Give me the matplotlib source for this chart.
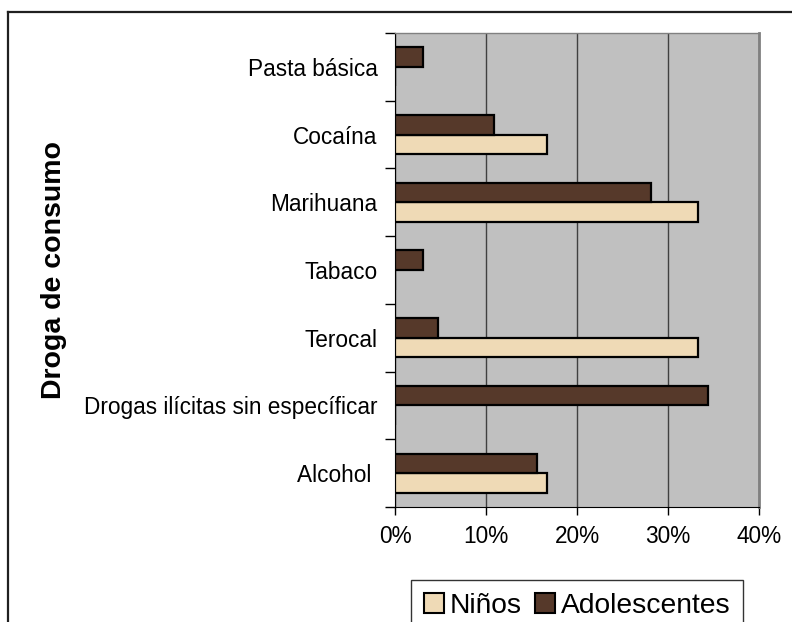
import numpy as np
import matplotlib.pyplot as plt
from matplotlib.lines import Line2D
from matplotlib.patches import Patch
from matplotlib.ticker import FuncFormatter

plt.rcParams['font.family'] = ['Liberation Sans', 'DejaVu Sans']

# Datos (% de consumo por grupo)
drogas = ['Alcohol ', 'Drogas ilícitas sin específicar', 'Terocal', 'Tabaco',
          'Marihuana', 'Cocaína', 'Pasta básica']
ninos = [16.7, 0, 33.3, 0, 33.3, 16.7, 0]
adolescentes = [15.6, 34.4, 4.7, 3.1, 28.1, 10.9, 3.1]

c_ninos = '#efdab6'
c_adol = '#56392a'

W, H = 792, 622
fig = plt.figure(figsize=(W / 100, H / 100), dpi=100)
ax = fig.add_axes([395 / W, 1 - 507 / H, 364 / W, 474 / H])

y = np.arange(len(drogas))
h = 0.29
ax.barh(y - h / 2, ninos, height=h, color=c_ninos, edgecolor='black',
        linewidth=1.6, zorder=3)
ax.barh(y + h / 2, adolescentes, height=h, color=c_adol, edgecolor='black',
        linewidth=1.6, zorder=3)

ax.set_facecolor('#c0c0c0')
ax.set_xlim(0, 40)
ax.set_ylim(-0.5, len(drogas) - 0.5)
ax.set_xticks([0, 10, 20, 30, 40])
ax.xaxis.set_major_formatter(FuncFormatter(lambda v, p: f'{v:.0f}%'))
ax.set_yticks(y)
ax.set_yticklabels(drogas)
ax.set_yticks(np.arange(-0.5, len(drogas), 1), minor=True)
ax.tick_params(axis='y', which='major', length=0, pad=12.5, labelsize=16.3)
ax.tick_params(axis='y', which='minor', length=7, width=1, direction='out')
ax.tick_params(axis='x', length=6, width=1, direction='out', pad=7, labelsize=16.3)

ax.grid(axis='x', color='#404040', linewidth=1, zorder=1)
ax.set_axisbelow(True)
for s in ['top', 'right']:
    ax.spines[s].set_color('#808080')
ax.spines['top'].set_linewidth(1)
ax.spines['right'].set_linewidth(2)
ax.spines['left'].set_color('black')
ax.spines['bottom'].set_color('black')

ax.set_ylabel('Droga de consumo', fontsize=20.5, fontweight='bold')
ax.yaxis.set_label_coords((67 - 395) / 364, 0.5)

# Leyenda
handles = [Patch(facecolor=c_ninos, edgecolor='black', linewidth=1.5, label='Niños'),
           Patch(facecolor=c_adol, edgecolor='black', linewidth=1.5, label='Adolescentes')]
leg = fig.legend(handles=handles, loc='upper center', ncol=2,
                 bbox_to_anchor=(577 / W, 1 - 580 / H), fontsize=20.3,
                 frameon=True, fancybox=False, edgecolor='black',
                 handlelength=0.7, handleheight=0.7, handletextpad=0.2,
                 columnspacing=0.5, borderpad=0.45, borderaxespad=0)
leg.get_frame().set_linewidth(1)

# Marco exterior del gráfico
fig.add_artist(Line2D([8 / W, 8 / W], [0, 1 - 12 / H], color='#202020',
                      linewidth=1.6, transform=fig.transFigure))
fig.add_artist(Line2D([8 / W, 1], [1 - 12 / H, 1 - 12 / H], color='#202020',
                      linewidth=1.6, transform=fig.transFigure))

fig.savefig('out.png', dpi=100, facecolor='white')
